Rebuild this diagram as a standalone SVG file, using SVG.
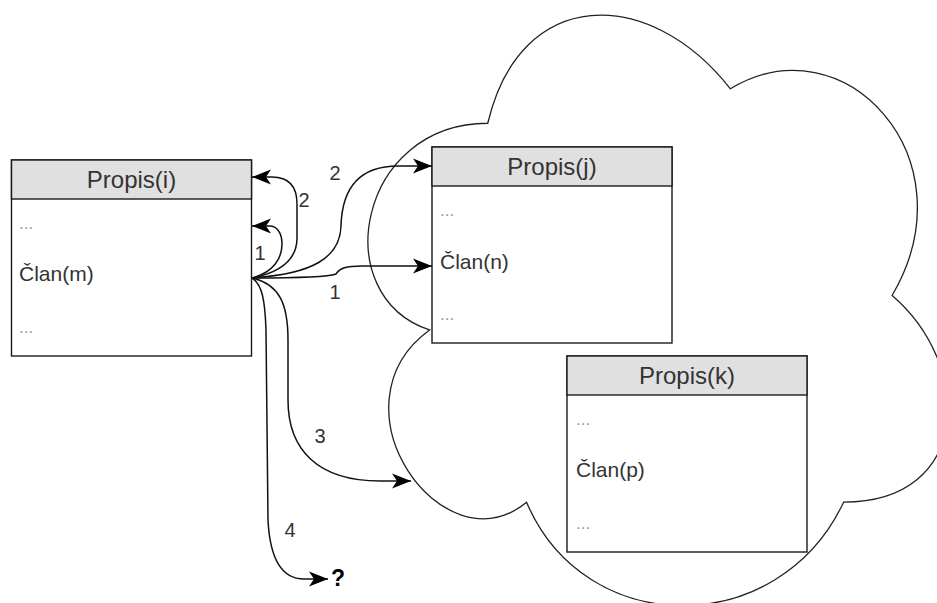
<svg xmlns="http://www.w3.org/2000/svg" width="937" height="603" viewBox="0 0 937 603">
  <style>
    .box { fill: #ffffff; stroke: #1a1a1a; stroke-width: 1.4; }
    .head { fill: #e0e0e0; stroke: #1a1a1a; stroke-width: 1.4; }
    .title { font-family: "Liberation Sans", Arial, sans-serif; font-size: 24px; fill: #333333; text-anchor: middle; }
    .row { font-family: "Liberation Sans", Arial, sans-serif; font-size: 21px; fill: #333333; }
    .dots { font-family: "Liberation Sans", Arial, sans-serif; font-size: 17px; fill: #999999; }
    .edge { fill: none; stroke: #111111; stroke-width: 1.5; marker-end: url(#arrow); }
    .lbl { font-family: "Liberation Sans", Arial, sans-serif; font-size: 20px; fill: #333333; text-anchor: middle; }
    .cloud { fill: #ffffff; stroke: #222222; stroke-width: 1.3; }
  </style>
  <defs>
    <marker id="arrow" markerUnits="userSpaceOnUse" viewBox="0 0 21 18" refX="20" refY="9" markerWidth="21" markerHeight="18" orient="auto">
      <path d="M1,1.5 L20,9 L1,16.5 L6,9 Z" fill="#000000"/>
    </marker>
  </defs>
  <rect width="937" height="603" fill="#ffffff"/>

  <!-- cloud holding the remote records -->
  <g id="cloud">
    <path class="cloud" d="M487.75,123.25 C358.35,123.25 326,295.5 429.52,329.95 C326,405.74 442.46,571.1 526.57,502.2 C584.8,640 778.9,640 843.6,502.2 C973,502.2 973,364.4 892.1,295.5 C973,157.7 843.6,19.9 730.4,88.8 C649.5,-14.55 520.1,-14.55 487.75,123.25 Z"/>
  </g>

  <!-- record i -->
  <g id="propis-i">
    <rect class="box" x="11.5" y="160" width="240" height="196"/>
    <rect class="head" x="11.5" y="160" width="240" height="39"/>
    <text class="title" x="131.5" y="188">Propis(i)</text>
    <text class="dots" x="19" y="229">...</text>
    <text class="row" x="19" y="281">Član(m)</text>
    <text class="dots" x="19" y="333">...</text>
  </g>

  <!-- record j -->
  <g id="propis-j">
    <rect class="box" x="432" y="147" width="240" height="196"/>
    <rect class="head" x="432" y="147" width="240" height="39"/>
    <text class="title" x="552" y="175">Propis(j)</text>
    <text class="dots" x="440" y="216">...</text>
    <text class="row" x="440" y="269">Član(n)</text>
    <text class="dots" x="440" y="320">...</text>
  </g>

  <!-- record k -->
  <g id="propis-k">
    <rect class="box" x="567" y="356" width="240" height="196"/>
    <rect class="head" x="567" y="356" width="240" height="39"/>
    <text class="title" x="687" y="384">Propis(k)</text>
    <text class="dots" x="576" y="425">...</text>
    <text class="row" x="576" y="477">Član(p)</text>
    <text class="dots" x="576" y="529">...</text>
  </g>

  <!-- unknown target -->
  <g id="unknown">
    <text x="338" y="586" font-family="Liberation Sans, Arial, sans-serif" font-size="23" font-weight="bold" fill="#000000" text-anchor="middle">?</text>
  </g>

  <!-- references leaving Član(m) -->
  <g id="connectors">
    <path class="edge" d="M252,278 C274,272 282,258 282,244 C282,232 276,226 270,226 L252,226"/>
    <path class="edge" d="M252,278 C282,272 297,258 297,238 L297,204 C297,186 288,177 272,177 L252,177"/>
    <path class="edge" d="M252,278 C312,274 340,258 341,226 C342,190 358,166 398,166 L432,166"/>
    <path class="edge" d="M252,278 C300,278 328,277 336,274 C340,268 346,266 362,266 L432,266"/>
    <path class="edge" d="M252,278 C280,284 288,305 288,340 L288,400 C288,450 318,481 380,481 L411,481"/>
    <path class="edge" d="M252,278 C262,284 265,300 266,330 L268,520 C270,560 282,579 304,579 L328,579"/>
    <text class="lbl" x="260" y="260">1</text>
    <text class="lbl" x="304" y="207">2</text>
    <text class="lbl" x="335" y="180">2</text>
    <text class="lbl" x="335" y="299">1</text>
    <text class="lbl" x="320" y="443">3</text>
    <text class="lbl" x="290" y="537">4</text>
  </g>
</svg>
